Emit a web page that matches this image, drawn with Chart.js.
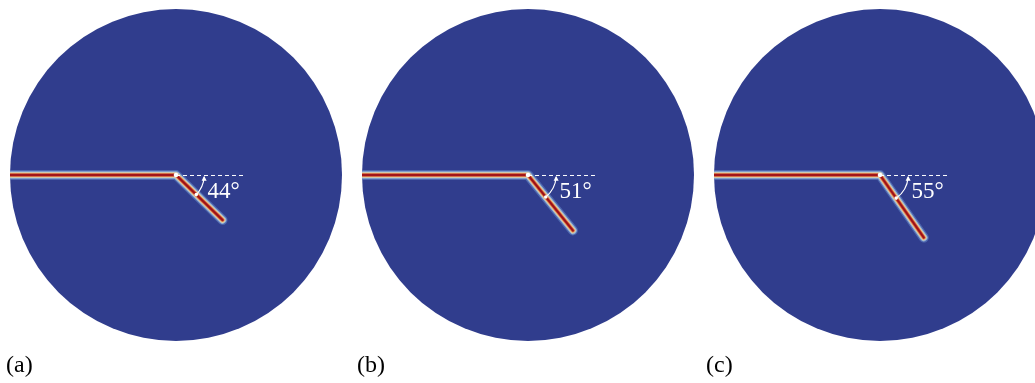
<!DOCTYPE html>
<html>
<head>
<meta charset="utf-8">
<script src="https://cdn.jsdelivr.net/npm/chart.js@4.4.0/dist/chart.umd.min.js"></script>
<style>
  html, body { margin:0; padding:0; background:#fff; overflow:hidden; }
  #wrap { position:relative; width:1035px; height:383px; overflow:hidden; }
  .panel { position:absolute; top:0; width:352px; height:383px; }
  .lbl { position:absolute; top:351px; font:24px "Liberation Serif", "DejaVu Serif", serif; color:#000; }
</style>
</head>
<body>
<div id="wrap">
  <div class="panel" style="left:0"><canvas id="c0"></canvas></div>
  <div class="panel" style="left:352px"><canvas id="c1"></canvas></div>
  <div class="panel" style="left:704px"><canvas id="c2"></canvas></div>
  <div class="lbl" style="left:6px">(a)</div>
  <div class="lbl" style="left:357px">(b)</div>
  <div class="lbl" style="left:706px">(c)</div>
</div>
<script>
// crack data, in units of the disc radius (kink at disc centre)
const panels      = ['(a)', '(b)', '(c)'];
const kinkAngles  = [44, 51, 55];          // degrees below horizontal
const branchLen   = [0.39, 0.43, 0.46];    // length of the deflected branch
const mainStart   = [-1, -1, -1];          // horizontal crack starts at left edge
const refLineLen  = 0.41;                  // dashed reference line

const DISC = '#303d8d';

function crackPoints(i) {
  const t = kinkAngles[i] * Math.PI / 180;
  return [
    { x: mainStart[i], y: 0 },
    { x: 0, y: 0 },
    { x: branchLen[i] * Math.cos(t), y: -branchLen[i] * Math.sin(t) }
  ];
}

// disc + angle annotation drawn via the chart scales
const discPlugin = {
  id: 'disc',
  beforeDatasetsDraw(chart) {
    const { ctx, scales: { x, y } } = chart;
    const cx = x.getPixelForValue(0), cy = y.getPixelForValue(0);
    const r = x.getPixelForValue(1) - cx;
    ctx.save();
    ctx.fillStyle = DISC;
    ctx.beginPath();
    ctx.arc(cx, cy, r, 0, Math.PI * 2);
    ctx.fill();
    // keep the crack inside the disc
    ctx.clip();
    chart._discClipped = true;
  },
  afterDatasetsDraw(chart) {
    const { ctx, scales: { x, y } } = chart;
    if (chart._discClipped) { ctx.restore(); chart._discClipped = false; }
    const i = chart.options.plugins.disc.index;
    const cx = x.getPixelForValue(0), cy = y.getPixelForValue(0);
    const unit = x.getPixelForValue(1) - cx;
    const t = kinkAngles[i] * Math.PI / 180;
    ctx.save();
    // dashed reference line
    ctx.strokeStyle = '#ffffff';
    ctx.lineWidth = 1;
    ctx.setLineDash([4, 3]);
    ctx.beginPath();
    ctx.moveTo(cx, cy + 0.5);
    ctx.lineTo(x.getPixelForValue(refLineLen), cy + 0.5);
    ctx.stroke();
    ctx.setLineDash([]);
    // kink dot
    ctx.fillStyle = '#ffffff';
    ctx.beginPath();
    ctx.arc(cx, cy, 2.3, 0, Math.PI * 2);
    ctx.fill();
    // angle arc
    const ar = 0.17 * unit;
    const a0 = 0.08, a1 = t;
    ctx.lineWidth = 1.2;
    ctx.beginPath();
    ctx.arc(cx, cy, ar, a0, a1);
    ctx.stroke();
    // arrow head at top end
    const ex = cx + ar * Math.cos(a0), ey = cy + ar * Math.sin(a0);
    ctx.beginPath();
    ctx.moveTo(ex, ey - 1.5);
    ctx.lineTo(ex - 2.5, ey + 3.5);
    ctx.lineTo(ex + 2.5, ey + 3.5);
    ctx.closePath();
    ctx.fill();
    // dot at lower end
    ctx.beginPath();
    ctx.arc(cx + ar * Math.cos(a1), cy + ar * Math.sin(a1), 1.8, 0, Math.PI * 2);
    ctx.fill();
    // label
    ctx.font = '23px "Liberation Serif", serif';
    ctx.textBaseline = 'middle';
    ctx.textAlign = 'left';
    ctx.fillText(kinkAngles[i] + '\u00b0', cx + 0.19 * unit, cy + 0.1 * unit);
    ctx.restore();
  }
};

const layers = [
  { color: 'rgba(110,150,215,0.45)', width: 10 },
  { color: 'rgba(170,200,225,0.75)', width: 7.5 },
  { color: 'rgba(235,215,160,0.9)', width: 5.5 },
  { color: '#e08a55', width: 4 },
  { color: '#b82a22', width: 2.6 },
  { color: '#9a1018', width: 1.3 }
];

panels.forEach((name, i) => {
  const pts = crackPoints(i);
  new Chart(document.getElementById('c' + i), {
    type: 'scatter',
    data: {
      datasets: layers.map((l, k) => ({
        label: name,
        data: pts,
        showLine: true,
        borderColor: l.color,
        borderWidth: l.width,
        borderCapStyle: 'round',
        borderJoinStyle: 'round',
        pointRadius: 0,
        order: layers.length - k,
        clip: false
      }))
    },
    options: {
      responsive: true,
      maintainAspectRatio: false,
      animation: false,
      events: [],
      layout: { padding: 0 },
      scales: {
        x: { type: 'linear', min: -1.0602, max: 1.0602, display: false },
        y: { type: 'linear', min: -1.2530, max: 1.0542, display: false }
      },
      plugins: {
        legend: { display: false },
        tooltip: { enabled: false },
        disc: { index: i }
      }
    },
    plugins: [discPlugin]
  });
});
</script>
</body>
</html>
